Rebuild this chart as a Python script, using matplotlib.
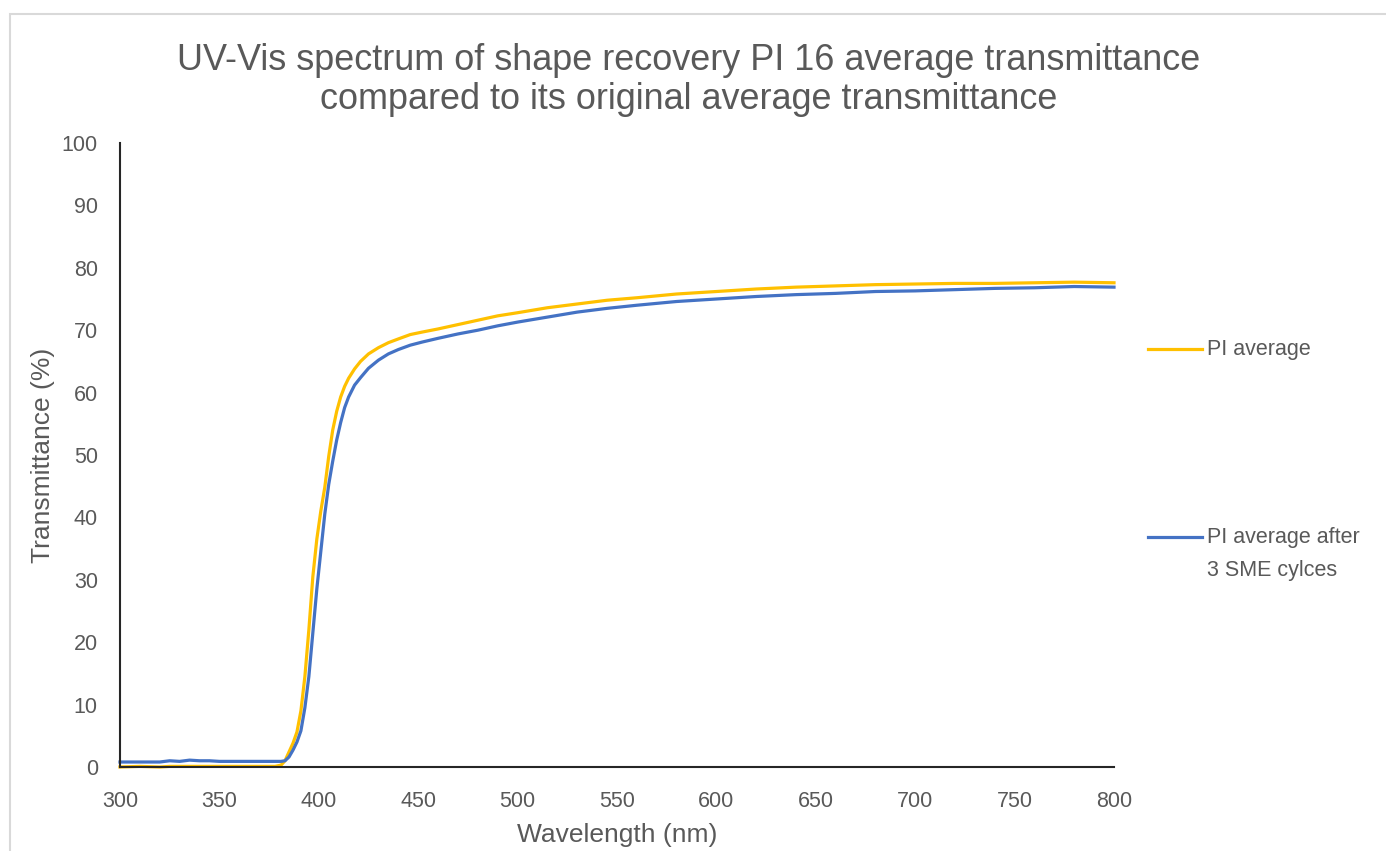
import matplotlib
matplotlib.use("Agg")
import matplotlib.pyplot as plt
from matplotlib.lines import Line2D
from matplotlib.patches import Rectangle

# wavelength (nm) and transmittance (%)
wavelength = [300, 310, 320, 325, 330, 335, 340, 345, 350, 360, 370, 378, 381, 383,
              385, 387, 389, 391, 393, 395, 397, 399, 401, 403, 405, 407, 409, 411,
              413, 415, 418, 421, 425, 430, 435, 440, 446, 452, 460, 470, 480, 490,
              500, 515, 530, 545, 560, 580, 600, 620, 640, 660, 680, 700, 720, 740,
              760, 780, 800]

pi_average = [0.0, 0.1, 0.0, 0.1, 0.1, 0.1, 0.1, 0.1, 0.1, 0.1, 0.1, 0.1, 0.3, 1.0,
              2.4, 3.8, 5.6, 9.0, 14.5, 22.0, 30.5, 36.5, 41.0, 44.8, 49.8, 54.0, 57.0, 59.3,
              61.0, 62.3, 63.8, 65.0, 66.2, 67.2, 68.0, 68.6, 69.3, 69.7, 70.2, 70.9, 71.6, 72.3,
              72.8, 73.6, 74.2, 74.8, 75.2, 75.8, 76.2, 76.6, 76.9, 77.1, 77.3, 77.4, 77.5, 77.5,
              77.6, 77.7, 77.6]

pi_after_sme = [0.8, 0.8, 0.8, 1.0, 0.9, 1.1, 1.0, 1.0, 0.9, 0.9, 0.9, 0.9, 0.9, 1.0,
                1.6, 2.7, 4.0, 5.8, 9.5, 14.5, 21.5, 28.5, 34.5, 40.5, 45.3, 49.0, 52.4, 55.2,
                57.6, 59.3, 61.2, 62.4, 63.9, 65.2, 66.2, 66.9, 67.6, 68.1, 68.7, 69.4, 70.0, 70.7,
                71.3, 72.1, 72.9, 73.5, 74.0, 74.6, 75.0, 75.4, 75.7, 75.9, 76.2, 76.3, 76.5, 76.7,
                76.8, 77.0, 76.9]

labels = ["PI average", "PI average after\n3 SME cylces"]
x_ticks = [300, 350, 400, 450, 500, 550, 600, 650, 700, 750, 800]
y_ticks = [0, 10, 20, 30, 40, 50, 60, 70, 80, 90, 100]

plt.rcParams['font.family'] = ['Liberation Sans', 'DejaVu Sans']
grey = '#595959'
orange = '#FFC000'
blue = '#4472C4'

W, H = 1386, 851
fig = plt.figure(figsize=(W / 100, H / 100), dpi=100)

# chart frame (light grey border, only top and left show)
fig.patches.append(Rectangle((10 / W, -0.05), 1.1, 1.05 - 14 / H, transform=fig.transFigure,
                             fill=False, edgecolor='#d9d9d9', linewidth=1.5))

ax = fig.add_axes([120 / W, 1 - 767 / H, (1114 - 120) / W, (767 - 143) / H])

l1, = ax.plot(wavelength, pi_average, color=orange, linewidth=2.3, clip_on=False)
l2, = ax.plot(wavelength, pi_after_sme, color=blue, linewidth=2.3, clip_on=False)

ax.set_xlim(300, 800)
ax.set_ylim(0, 100)
ax.set_xticks(x_ticks)
ax.set_yticks(y_ticks)
ax.tick_params(length=0, labelsize=15.5, labelcolor=grey)
ax.tick_params(axis='x', pad=17)
ax.tick_params(axis='y', pad=16)
for s in ['top', 'right']:
    ax.spines[s].set_visible(False)
for s in ['left', 'bottom']:
    ax.spines[s].set_color('#262626')
    ax.spines[s].set_linewidth(1.5)

ax.set_xlabel("Wavelength (nm)", fontsize=19, color=grey, labelpad=8)
ax.set_ylabel("Transmittance (%)", fontsize=19, color=grey, labelpad=5)

fig.text(689 / W, 1 - 80 / H,
         "UV-Vis spectrum of shape recovery PI 16 average transmittance\ncompared to its original average transmittance",
         ha='center', va='center', fontsize=25.9, color=grey, linespacing=1.12)

# legend drawn by hand: Excel puts the key line level with the first text line
for line, label, y in [(l1, labels[0], 349), (l2, labels[1], 537)]:
    fig.add_artist(Line2D([1148 / W, 1202 / W], [1 - y / H, 1 - y / H],
                          color=line.get_color(), linewidth=2.3))
    fig.text(1207 / W, 1 - (y - 10) / H, label, ha='left', va='top',
             fontsize=15.5, color=grey, linespacing=1.75)

fig.savefig("out.png", dpi=100)
